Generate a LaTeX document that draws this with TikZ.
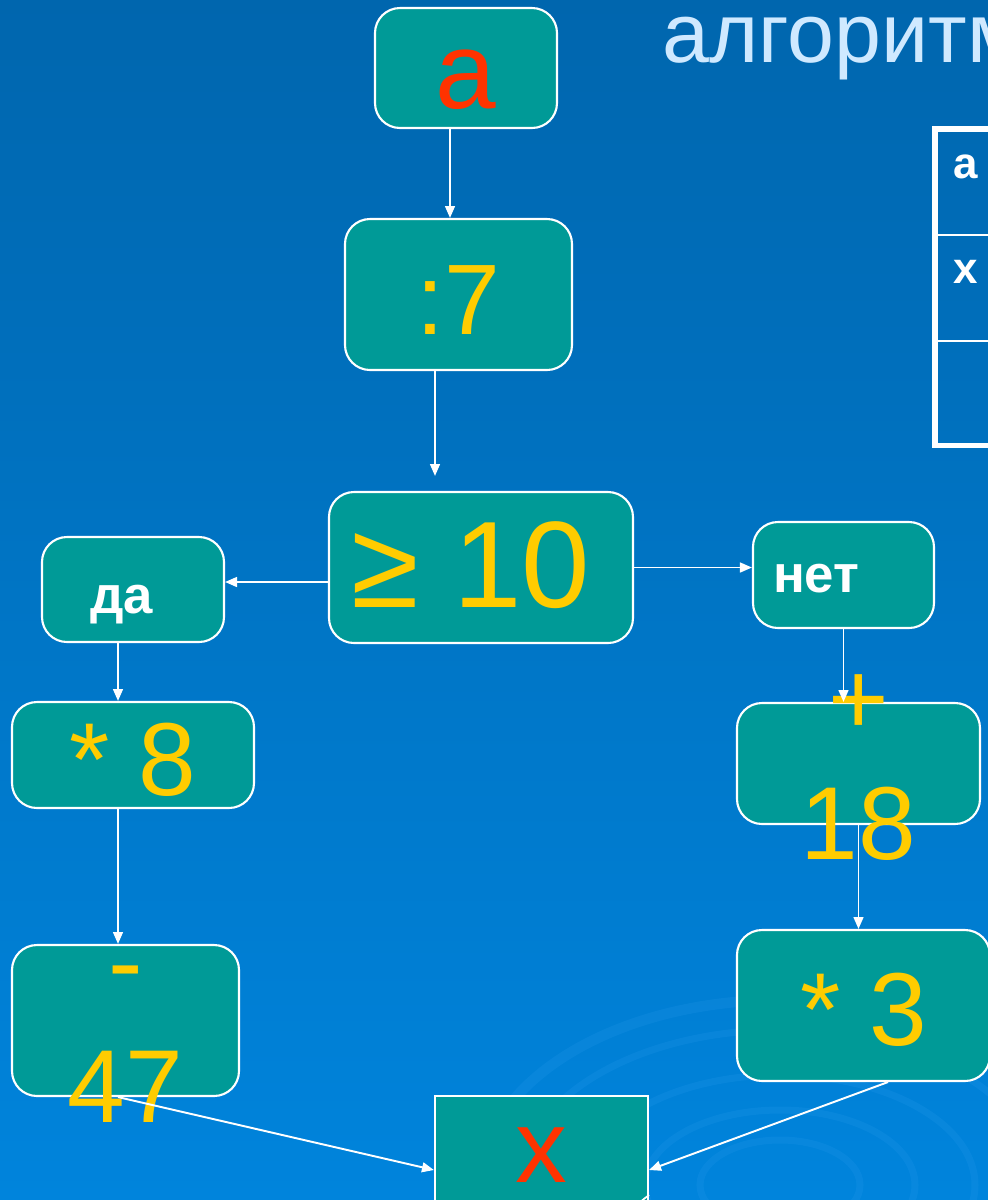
\documentclass[tikz,border=0pt]{standalone}
\usepackage{fontspec}
\setmainfont{Liberation Sans}
\usetikzlibrary{arrows.meta}

\definecolor{bgtop}{HTML}{0066AE}
\definecolor{bgmid}{HTML}{006CB8}
\definecolor{bgbot}{HTML}{0084DC}
\definecolor{boxteal}{HTML}{009A97}
\definecolor{numyellow}{HTML}{FFCC00}
\definecolor{inred}{HTML}{FF3300}
\definecolor{titleblue}{HTML}{CFE9FF}
\definecolor{swirlblue}{HTML}{3AA6F5}

\begin{document}
\begin{tikzpicture}[>={Triangle[length=3.4pt,width=2.8pt]},
  box/.style={draw=white, line width=0.6pt, fill=boxteal, rounded corners=0.25cm,
    inner sep=0pt, text height=0.8cm, text depth=0pt},
  bignum/.style={text=numyellow, font=\fontsize{29.5}{34.5}\selectfont},
  ovl/.style={text=numyellow, font=\fontsize{29.5}{35.5}\selectfont, align=center, inner sep=0pt},
  answer/.style={text=white, font=\fontsize{15}{18}\selectfont\bfseries, align=left},
  conn/.style={->, white, line width=0.55pt},
  swirl/.style={swirlblue, line width=2pt, opacity=0.14}]
  \useasboundingbox (0,0) rectangle (9.88,-12);

  % Background
  \fill[top color=bgtop, middle color=bgmid, bottom color=bgbot] (0,0) rectangle (9.88,-12);
  \draw[swirl] (7.8,-11.85) ellipse (0.8 and 0.45);
  \draw[swirl] (7.8,-11.85) ellipse (1.35 and 0.75);
  \draw[swirl] (7.8,-11.85) ellipse (1.95 and 1.1);
  \draw[swirl] (7.8,-11.85) ellipse (2.6 and 1.55);
  \draw[swirl, line width=3pt] (7.8,-11.85) ellipse (3.0 and 1.85);

  % Title and trace table
  \node[anchor=base west, inner sep=0pt, text=titleblue, font=\fontsize{24}{29}\selectfont] (title) at (6.62,-0.62) {алгоритм};
  \draw[white, line width=1.5pt] (10.2,-1.29) -| (9.35,-4.455) -- (10.2,-4.455);
  \draw[white, line width=0.7pt] (9.35,-2.35) -- (10.2,-2.35);
  \draw[white, line width=0.7pt] (9.35,-3.41) -- (10.2,-3.41);
  \node[anchor=base west, inner sep=0pt, text=white, font=\fontsize{12.5}{15}\selectfont\bfseries] (ta) at (9.53,-1.78) {a};
  \node[anchor=base west, inner sep=0pt, text=white, font=\fontsize{12.5}{15}\selectfont\bfseries] (tx) at (9.53,-2.83) {x};

  % Steps
  \node[box, minimum width=1.82cm, minimum height=1.20cm, text=inred, font=\fontsize{31}{36}\selectfont] (a) at (4.66,-0.68) {a};
  \node[box, minimum width=2.27cm, minimum height=1.51cm, text=numyellow, font=\fontsize{28.5}{33}\selectfont] (c7) at (4.585,-2.945) {:7};
  \node[box, minimum width=3.04cm, minimum height=1.51cm, text=numyellow, font=\fontsize{35}{41}\selectfont] (ge) at (4.81,-5.675) {≥ 10\kern0.2cm};

  % Branches
  \node[box, answer, minimum width=1.82cm, minimum height=1.05cm, inner xsep=0.48cm, text width=0.86cm, text height=0.47cm] (da) at (1.33,-5.895) {да};
  \node[box, answer, minimum width=1.81cm, minimum height=1.06cm, inner xsep=0.20cm, text width=1.41cm, text height=0.34cm] (net) at (8.435,-5.75) {нет};
  \node[box, bignum, minimum width=2.42cm, minimum height=1.06cm] (m8) at (1.33,-7.55) {* 8};
  \node[box, minimum width=2.27cm, minimum height=1.51cm, label={[ovl, yshift=-0.24cm]center:{-\\47}}] (m47) at (1.255,-10.205) {};
  \node[box, minimum width=2.43cm, minimum height=1.21cm, label={[ovl, yshift=-0.04cm]center:{+\\18}}] (p18) at (8.585,-7.635) {};
  \node[box, bignum, minimum width=2.53cm, minimum height=1.51cm] (m3) at (8.635,-10.055) {* 3};

  % Result
  \node[box, sharp corners, minimum width=2.13cm, minimum height=1.10cm, text=inred, font=\fontsize{29.5}{34.5}\selectfont, text height=0.62cm] (x) at (5.415,-11.51) {x};
  \draw[white, line width=0.5pt, fill=boxteal] ([yshift=0.12cm]x.south east) .. controls ([xshift=-0.08cm,yshift=0.06cm]x.south east) .. ([xshift=-0.13cm]x.south east);

  % Connectors
  \draw[conn] ([xshift=-0.16cm]a.south) -- ([xshift=-0.16cm]a.south |- c7.north);
  \draw[conn] ([xshift=-0.235cm]c7.south) -- ([xshift=-0.235cm,yshift=0.15cm]c7.south |- ge.north);
  \draw[conn] ([yshift=-0.145cm]ge.west) -- ([yshift=-0.145cm]ge.west -| da.east);
  \draw[conn] (ge.east) -- (ge.east -| net.west);
  \draw[conn] ([xshift=-0.15cm]da.south) -- ([xshift=-0.15cm]da.south |- m8.north);
  \draw[conn] ([xshift=-0.15cm]m8.south) -- ([xshift=-0.15cm]m8.south |- m47.north);
  \draw[conn] (net.south) -- (net.south |- p18.north);
  \draw[conn] (p18.south) -- (p18.south |- m3.north);
  \draw[conn] ([xshift=-0.075cm]m47.south) -- ([yshift=-0.19cm]x.west);
  \draw[conn] ([xshift=0.245cm]m3.south) -- ([yshift=-0.19cm]x.east);
\end{tikzpicture}
\end{document}
